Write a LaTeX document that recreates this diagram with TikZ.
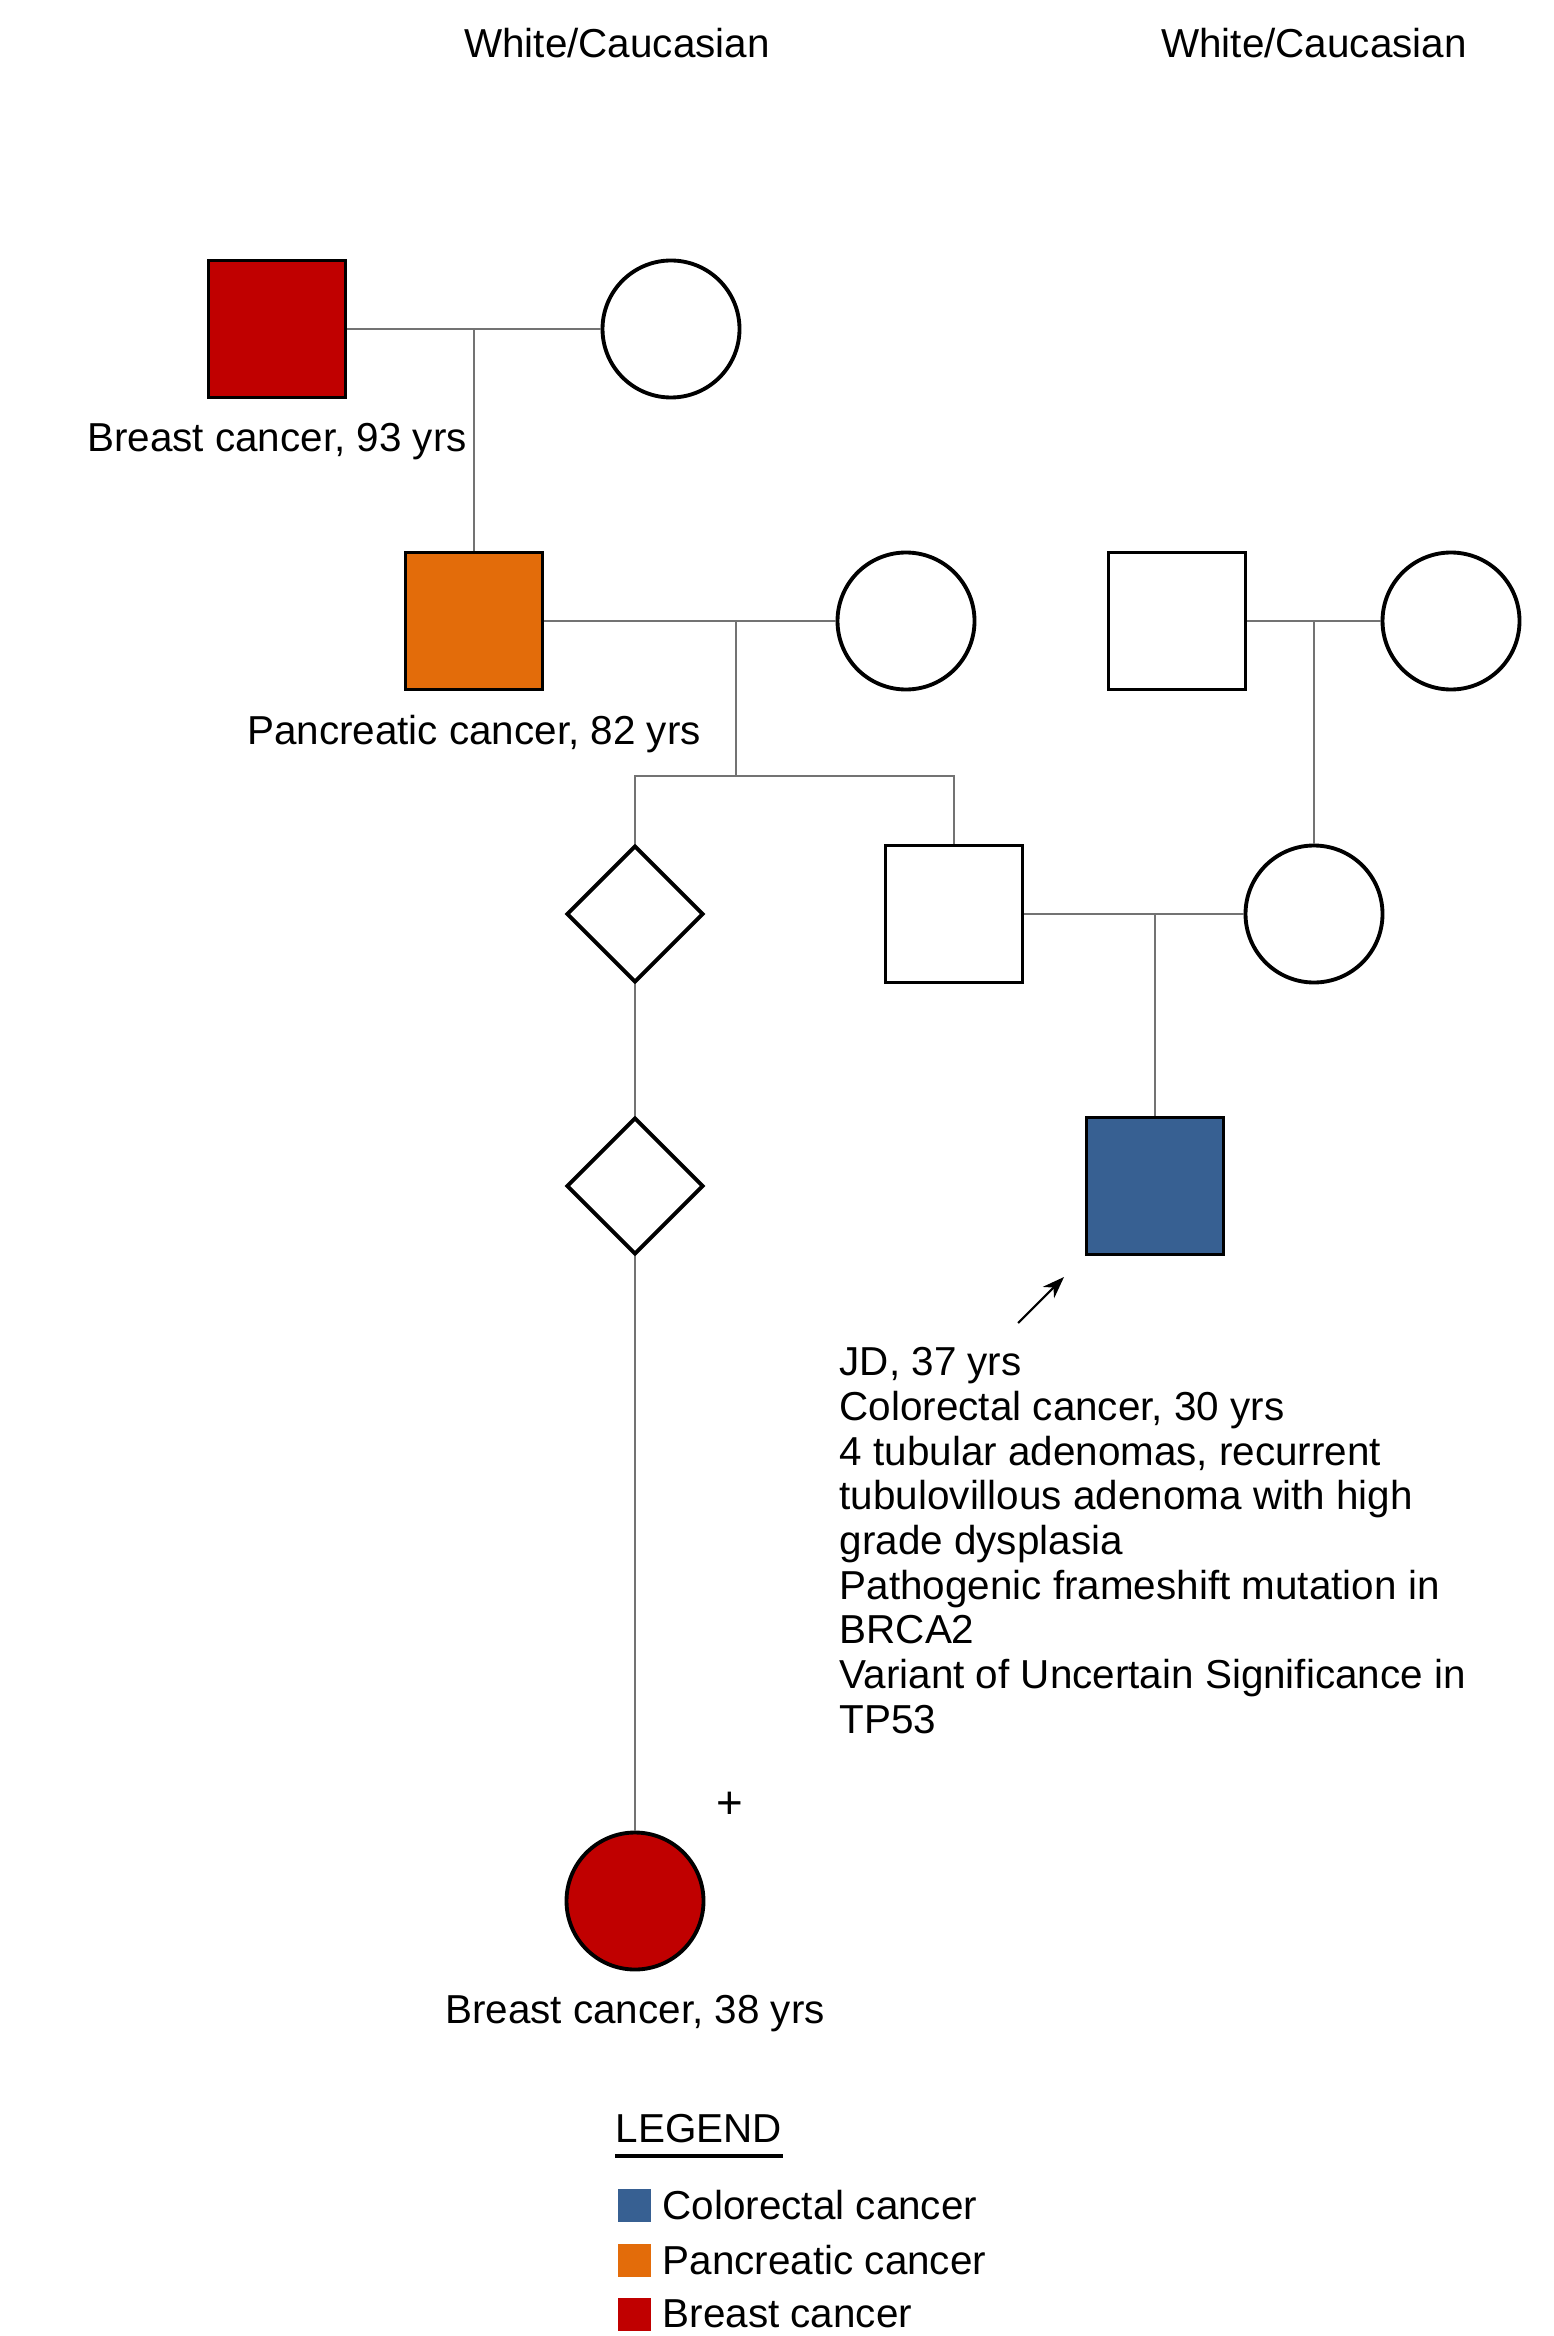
\documentclass[tikz,border=0pt]{standalone}
\usepackage{fontspec}
\setmainfont{Liberation Sans}
\usepackage{tikz}
\usetikzlibrary{arrows.meta, shapes.geometric, positioning}
\definecolor{crcblue}{RGB}{55,96,146}
\definecolor{pancorange}{RGB}{227,108,10}
\definecolor{breastred}{RGB}{192,0,0}

\begin{document}
\begin{tikzpicture}[>=Stealth,
    font=\fontsize{11.5}{12.7}\selectfont,
    male/.style={draw, line width=1.1pt, fill=white, minimum size=1.37cm, inner sep=0pt},
    female/.style={draw, circle, line width=1.1pt, fill=white, minimum size=1.37cm, inner sep=0pt},
    unknown/.style={draw, diamond, line width=1.1pt, fill=white, minimum size=1.37cm, inner sep=0pt},
    link/.style={gray!90!black, line width=0.7pt},
    swatch/.style={minimum size=0.33cm, inner sep=0pt}]
    \useasboundingbox (0,0) rectangle (15.54,-23.36);

    % Ethnicity of each side
    \node (ethL) at (6.17,-0.43) {White/Caucasian};
    \node (ethR) at (13.14,-0.43) {White/Caucasian};

    % Generation I
    \node[male, fill=breastred] (gf) at (2.77,-3.29) {};
    \node[female] (gm) at (6.71,-3.29) {};
    \node (gfLbl) at (2.77,-4.42) {Breast cancer, 93 yrs};

    % Generation II
    \node[male, fill=pancorange] (father) at (4.74,-6.21) {};
    \node[female] (mother) at (9.06,-6.21) {};
    \node (fatherLbl) at (4.74,-7.34) {Pancreatic cancer, 82 yrs};
    \node[male] (ogf) at (11.77,-6.21) {};
    \node[female] (ogm) at (14.51,-6.21) {};

    % Generation III
    \node[unknown] (d1) at (6.35,-9.14) {};
    \node[male] (son) at (9.54,-9.14) {};
    \node[female] (wife) at (13.14,-9.14) {};

    % Generation IV
    \node[unknown] (d2) at (6.35,-11.86) {};
    \node[male, fill=crcblue] (jd) at (11.55,-11.86) {};

    % Generation V
    \node[female, fill=breastred] (dau) at (6.35,-19.01) {};
    \node[font=\fontsize{13}{14}\selectfont] (plus) at (7.30,-18.05) {+};
    \node (dauLbl) at (6.35,-20.14) {Breast cancer, 38 yrs};

    % Lines of descent
    \coordinate (m1) at (4.74,-3.29);
    \coordinate (m2) at (7.36,-6.21);
    \coordinate (s2) at (7.36,-7.76);
    \coordinate (m3) at (13.14,-6.21);
    \coordinate (m4) at (11.55,-9.14);
    \draw[link] (gf) -- (gm);
    \draw[link] (m1) -- (father.north);
    \draw[link] (father) -- (mother);
    \draw[link] (m2) -- (s2);
    \draw[link] (d1.north) |- (s2) -| (son.north);
    \draw[link] (ogf) -- (ogm);
    \draw[link] (m3) -- (wife.north);
    \draw[link] (son) -- (wife);
    \draw[link] (m4) -- (jd.north);
    \draw[link] (d1.south) -- (d2.north);
    \draw[link] (d2.south) -- (dau.north);

    % Proband
    \coordinate (arrS) at (10.18,-13.23);
    \coordinate (arrE) at (10.64,-12.77);
    \draw[-{Stealth[length=0.22cm, width=0.16cm]}, line width=0.6pt] (arrS) -- (arrE);
    \node[anchor=north west, align=left, inner sep=0pt] (jdLbl) at (8.39,-13.47) {JD, 37 yrs\\
        Colorectal cancer, 30 yrs\\
        4 tubular adenomas, recurrent\\
        tubulovillous adenoma with high\\
        grade dysplasia\\
        Pathogenic frameshift mutation in\\
        BRCA2\\
        Variant of Uncertain Significance in\\
        TP53};

    % Legend
    \node[anchor=west, inner sep=0pt] (lgd) at (6.15,-21.29) {LEGEND};
    \draw[line width=1pt] ([yshift=-0.12cm]lgd.south west) -- ([yshift=-0.12cm]lgd.south east);
    \node[swatch, fill=crcblue] (swC) at (6.34,-22.05) {};
    \node[swatch, fill=pancorange] (swP) at (6.34,-22.60) {};
    \node[swatch, fill=breastred] (swB) at (6.34,-23.14) {};
    \node[anchor=west, inner sep=0pt] at (6.62,-22.05) {Colorectal cancer};
    \node[anchor=west, inner sep=0pt] at (6.62,-22.60) {Pancreatic cancer};
    \node[anchor=west, inner sep=0pt] at (6.62,-23.14) {Breast cancer};
\end{tikzpicture}
\end{document}
